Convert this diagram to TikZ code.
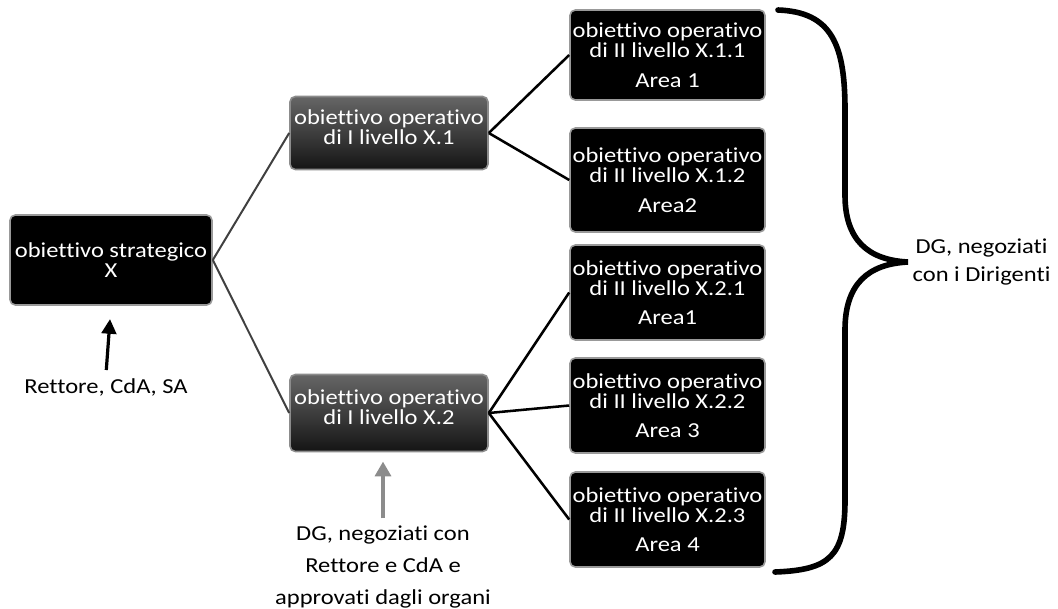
\documentclass[tikz,border=0pt]{standalone}
\usepackage{fontspec}
\setmainfont{Carlito}[FakeStretch=1.15,Ligatures=NoCommon]
\usetikzlibrary{arrows.meta,positioning}

\begin{document}
\begin{tikzpicture}[x=0.75pt,y=-0.75pt,
 obj/.style={rectangle,rounded corners=4pt,fill=black,draw=black!40,line width=1.2pt,
  text=white,align=center,inner sep=0pt,font=\fontsize{16}{15}\selectfont},
 lvlone/.style={obj,top color=black!60,bottom color=black!92,draw=black!45},
 note/.style={align=center,font=\fontsize{16}{21}\selectfont},
 link/.style={line width=1.9pt},
 softlink/.style={line width=1.5pt,black!75}]
\useasboundingbox (0,0) rectangle (1058,608);
\clip (0,0) rectangle (1058,608);
% strategic level
\node[obj,minimum width=151.5pt,minimum height=67.5pt] (strat) at (111,260)
 {obiettivo strategico\\X};
% first level
\node[lvlone,minimum width=148.5pt,minimum height=54.75pt] (x1) at (389,133)
 {obiettivo operativo\\di I livello X.1\\[-6pt]};
\node[lvlone,minimum width=148.5pt,minimum height=57.75pt] (x2) at (389,413)
 {obiettivo operativo\\di I livello X.2\\[-6pt]};
% second level
\node[obj,minimum width=146.25pt,minimum height=67.5pt] (x11) at (667.5,55)
 {obiettivo operativo\\di II livello X.1.1\\[7pt]Area 1};
\node[obj,minimum width=146.25pt,minimum height=78pt] (x12) at (667.5,180)
 {obiettivo operativo\\di II livello X.1.2\\[7pt]Area2};
\node[obj,minimum width=146.25pt,minimum height=71.25pt] (x21) at (667.5,292.5)
 {obiettivo operativo\\di II livello X.2.1\\[7pt]Area1};
\node[obj,minimum width=146.25pt,minimum height=71.25pt] (x22) at (667.5,405.5)
 {obiettivo operativo\\di II livello X.2.2\\[7pt]Area 3};
\node[obj,minimum width=146.25pt,minimum height=71.25pt] (x23) at (667.5,519.5)
 {obiettivo operativo\\di II livello X.2.3\\[7pt]Area 4};
% connectors
\draw[softlink] (strat.east) -- (x1.west);
\draw[softlink] (strat.east) -- (x2.west);
\foreach \t in {x11,x12}{\draw[link] (x1.east) -- (\t.west);}
\foreach \t in {x21,x22,x23}{\draw[link] (x2.east) -- (\t.west);}
% who sets the objectives
\node[note,anchor=north] (rcs) at (106,374) {Rettore, CdA, SA};
\draw[-{Triangle[length=11pt,width=11pt]},line width=2.4pt,shorten >=10pt,shorten <=3pt]
 (rcs.north) -- (strat.south);
\node[note,anchor=north,font=\fontsize{16}{24}\selectfont] (dgr) at (383,521)
 {DG, negoziati con\\Rettore e CdA e\\approvati dagli organi};
\draw[-{Triangle[length=11pt,width=12pt]},line width=2.4pt,black!45,shorten >=7pt,shorten <=2pt]
 (dgr.north) -- (x2.south -| dgr.north);
\node[note,anchor=west] (dgd) at (908,262) {DG, negoziati\\con i Dirigenti};
\draw[line width=4.2pt,line cap=round]
 (778,10) .. controls (832,12) and (845,45) .. (845,110) -- (845,195)
 .. controls (845,240) and (868,260) .. (dgd.west)
 .. controls (868,264) and (845,284) .. (845,330) -- (845,500)
 .. controls (845,556) and (830,570) .. (775,572);
\end{tikzpicture}
\end{document}
